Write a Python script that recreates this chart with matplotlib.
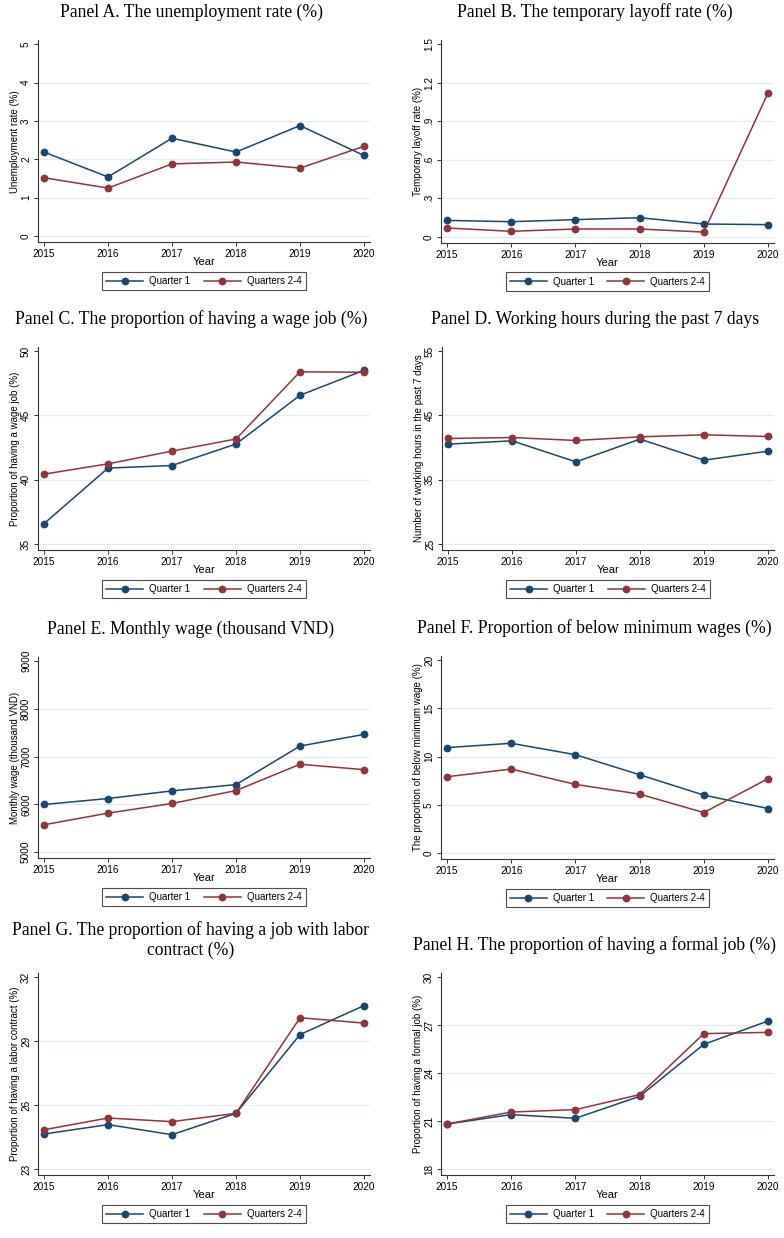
import matplotlib
matplotlib.use("Agg")
import matplotlib.pyplot as plt
import numpy as np

plt.rcParams['font.family'] = ['Liberation Sans', 'DejaVu Sans']

years = [2015, 2016, 2017, 2018, 2019, 2020]
series_names = ["Quarter 1", "Quarters 2-4"]

titles = [
    "Panel A. The unemployment rate (%)",
    "Panel B. The temporary layoff rate (%)",
    "Panel C. The proportion of having a wage job (%)",
    "Panel D. Working hours during the past 7 days",
    "Panel E. Monthly wage (thousand VND)",
    "Panel F. Proportion of below minimum wages (%)",
    "Panel G. The proportion of having a job with labor\ncontract (%)",
    "Panel H. The proportion of having a formal job (%)",
]
ylabels = [
    "Unemployment rate (%)",
    "Temporary layoff rate (%)",
    "Proportion of having a wage job (%)",
    "Number of working hours in the past 7 days",
    "Monthly wage (thousand VND)",
    "The proportion of below minimum wage (%)",
    "Proportion of having a labor contract (%)",
    "Proportion of having a formal job (%)",
]

# values
unemp_q1 = [2.19, 1.54, 2.55, 2.19, 2.88, 2.10]
unemp_q24 = [1.52, 1.25, 1.88, 1.93, 1.77, 2.34]
layoff_q1 = [0.127, 0.117, 0.133, 0.148, 0.099, 0.094]
layoff_q24 = [0.068, 0.042, 0.060, 0.060, 0.036, 1.12]
wagejob_q1 = [36.58, 40.90, 41.10, 42.77, 46.56, 48.50]
wagejob_q24 = [40.43, 41.23, 42.22, 43.16, 48.38, 48.35]
hours_q1 = [40.52, 41.04, 37.77, 41.30, 38.03, 39.43]
hours_q24 = [41.40, 41.55, 41.09, 41.66, 41.97, 41.71]
wage_q1 = [5995, 6120, 6280, 6412, 7219, 7463]
wage_q24 = [5570, 5814, 6016, 6287, 6837, 6725]
belowmin_q1 = [10.92, 11.37, 10.19, 8.11, 6.00, 4.61]
belowmin_q24 = [7.90, 8.70, 7.11, 6.10, 4.19, 7.70]
contract_q1 = [24.64, 25.08, 24.61, 25.61, 29.30, 30.66]
contract_q24 = [24.84, 25.39, 25.22, 25.61, 30.09, 29.84]
formal_q1 = [20.81, 21.40, 21.17, 22.54, 25.79, 27.25]
formal_q24 = [20.81, 21.56, 21.71, 22.65, 26.46, 26.54]

series_q1 = [unemp_q1, layoff_q1, wagejob_q1, hours_q1, wage_q1, belowmin_q1, contract_q1, formal_q1]
series_q24 = [unemp_q24, layoff_q24, wagejob_q24, hours_q24, wage_q24, belowmin_q24, contract_q24, formal_q24]

yticks = [
    [0, 1, 2, 3, 4, 5],
    [0, 0.3, 0.6, 0.9, 1.2, 1.5],
    [35, 40, 45, 50],
    [25, 35, 45, 55],
    [5000, 6000, 7000, 8000, 9000],
    [0, 5, 10, 15, 20],
    [23, 26, 29, 32],
    [18, 21, 24, 27, 30],
]
yticklabels = [
    ["0", "1", "2", "3", "4", "5"],
    ["0", ".3", ".6", ".9", "1.2", "1.5"],
    ["35", "40", "45", "50"],
    ["25", "35", "45", "55"],
    ["5000", "6000", "7000", "8000", "9000"],
    ["0", "5", "10", "15", "20"],
    ["23", "26", "29", "32"],
    ["18", "21", "24", "27", "30"],
]

# layout in pixels: (left spine x, right end x, y px of top tick, y px of bottom tick)
layout = [
    (38, 370, 44.3, 236.0),
    (441, 774, 44.3, 236.7),
    (38, 370, 351.0, 544.0),
    (442, 774, 351.0, 544.0),
    (38, 370, 661.0, 852.0),
    (441, 774, 660.0, 853.0),
    (38, 370, 977.0, 1169.0),
    (441, 774, 977.0, 1169.0),
]

W, H = 784, 1238
fig = plt.figure(figsize=(W / 100, H / 100), dpi=100)

c_q1 = "#1a476f"
c_q24 = "#90353b"
grid_c = "#e3ecee"

for i in range(8):
    x0, x1, phi, plo = layout[i]
    ybot = plo + 6
    ytop = phi - 4
    ax = fig.add_axes([x0 / W, 1 - ybot / H, (x1 - x0) / W, (ybot - ytop) / H])
    lo, hi = yticks[i][0], yticks[i][-1]
    s = (plo - phi) / (hi - lo)
    ax.set_ylim(lo - 6 / s, hi + 4 / s)
    sx = (x1 - x0 - 12) / 5
    ax.set_xlim(2015 - 6 / sx, 2020 + 6 / sx)

    for t in yticks[i][:-1]:
        ax.axhline(t, color=grid_c, lw=0.9, zorder=0)

    ax.plot(years, series_q1[i], color=c_q1, lw=1.1, marker='o', ms=4.6,
            label=series_names[0], zorder=3)
    ax.plot(years, series_q24[i], color=c_q24, lw=1.1, marker='o', ms=4.6,
            label=series_names[1], zorder=3)

    for sp in ['top', 'right']:
        ax.spines[sp].set_visible(False)
    for sp in ['left', 'bottom']:
        ax.spines[sp].set_color('#333333')
        ax.spines[sp].set_linewidth(0.8)

    ax.set_xticks(years)
    ax.set_xticklabels([str(y) for y in years], fontsize=7.2)
    ax.set_yticks(yticks[i])
    ax.set_yticklabels(yticklabels[i], fontsize=7.2, rotation=90, va='center')
    ax.tick_params(axis='both', length=3, width=0.7, color='#333333', pad=2)

    hpx = ybot - ytop
    wpx = x1 - x0
    ax.set_xlabel("Year", fontsize=8)
    ax.xaxis.set_label_coords(0.5, -15 / hpx)
    ax.set_ylabel(ylabels[i], fontsize=7)
    ax.yaxis.set_label_coords(-18 / wpx, 0.5)

    leg = ax.legend(loc='center', bbox_to_anchor=(0.5, -39 / hpx), ncol=2,
                    fontsize=7, frameon=True, fancybox=False, edgecolor='#222222',
                    handlelength=3.8, handletextpad=0.6, columnspacing=1.4,
                    borderpad=0.45, borderaxespad=0)
    leg.get_frame().set_linewidth(0.8)

    cx = (x0 + x1) / 2 - 13
    if '\n' in titles[i]:
        ty = phi - 37
    else:
        ty = phi - 32
    fig.text(cx / W, 1 - ty / H, titles[i], ha='center', va='center',
             fontsize=12.7, family=['Liberation Serif', 'DejaVu Serif'])

fig.savefig("out.png", dpi=100, facecolor='white')
